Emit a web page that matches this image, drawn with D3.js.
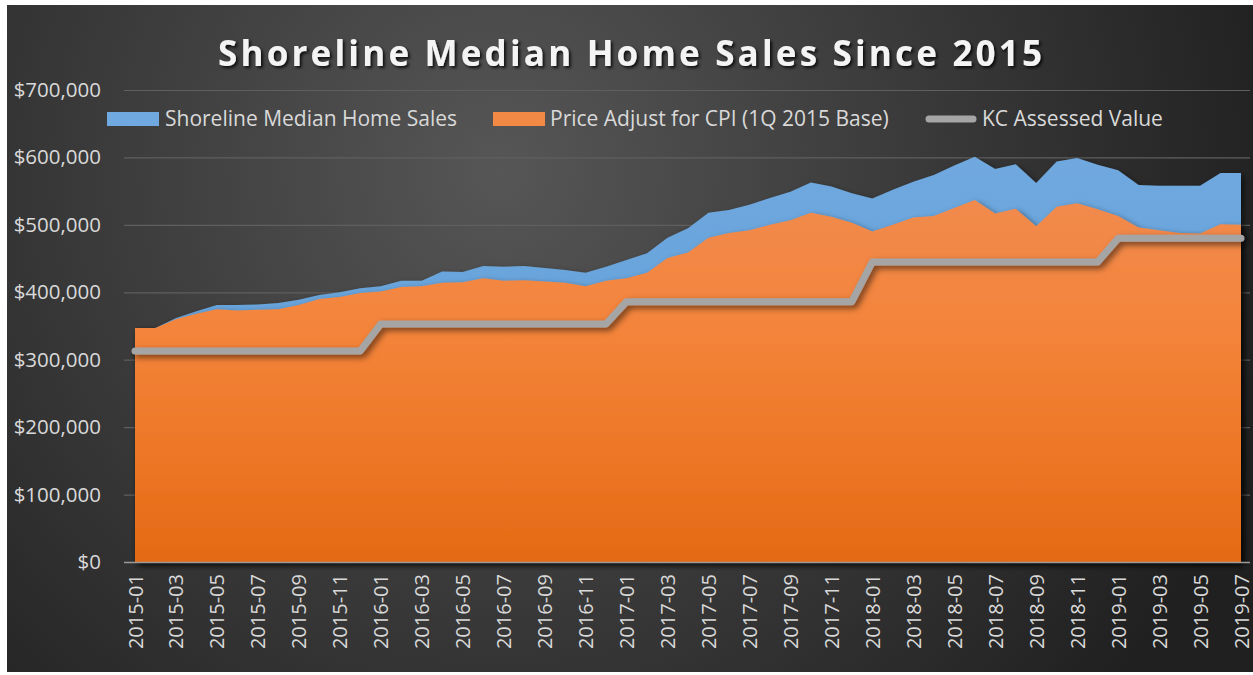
<!DOCTYPE html>
<html>
<head>
<meta charset="utf-8">
<script src="https://cdn.jsdelivr.net/npm/d3@7"></script>
<style>
  body { margin: 0; background: #fff; }
  svg text { font-family: 'Open Sans', sans-serif; }
</style>
</head>
<body>
<div id="chart"></div>
<script>
const months = [
  '2015-01','2015-02','2015-03','2015-04','2015-05','2015-06','2015-07','2015-08','2015-09','2015-10','2015-11','2015-12',
  '2016-01','2016-02','2016-03','2016-04','2016-05','2016-06','2016-07','2016-08','2016-09','2016-10','2016-11','2016-12',
  '2017-01','2017-02','2017-03','2017-04','2017-05','2017-06','2017-07','2017-08','2017-09','2017-10','2017-11','2017-12',
  '2018-01','2018-02','2018-03','2018-04','2018-05','2018-06','2018-07','2018-08','2018-09','2018-10','2018-11','2018-12',
  '2019-01','2019-02','2019-03','2019-04','2019-05','2019-06','2019-07'
]

// Shoreline median sale price
const medianSales = [
  347000, 347000, 362000, 372000, 381000, 381000, 382000, 384000, 389000, 396000, 400000, 406000,
  409000, 417000, 417000, 431000, 430000, 439000, 438000, 439000, 436000, 433000, 429000, 438000,
  448000, 458000, 481000, 495000, 518000, 522000, 530000, 540000, 549000, 563000, 557000, 547000,
  539000, 552000, 564000, 574000, 588000, 601000, 583000, 590000, 562000, 594000, 599000, 589000,
  581000, 559000, 558000, 558000, 558000, 577000, 577000
]

// same price in 1Q 2015 dollars
const cpiAdjusted = [
  347000, 347000, 360000, 368000, 375000, 373000, 374000, 375000, 381000, 390000, 393000, 399000,
  401000, 408000, 409000, 414000, 415000, 421000, 417000, 418000, 416000, 414000, 409000, 417000,
  421000, 429000, 451000, 459000, 481000, 488000, 492000, 500000, 507000, 518000, 512000, 503000,
  490000, 500000, 511000, 513000, 525000, 537000, 517000, 524000, 498000, 527000, 532000, 523000,
  513000, 496000, 492000, 488000, 487000, 501000, 500000
]

const kcAssessed = [
  313000, 313000, 313000, 313000, 313000, 313000, 313000, 313000, 313000, 313000, 313000, 313000,
  353000, 353000, 353000, 353000, 353000, 353000, 353000, 353000, 353000, 353000, 353000, 353000,
  386000, 386000, 386000, 386000, 386000, 386000, 386000, 386000, 386000, 386000, 386000, 386000,
  445000, 445000, 445000, 445000, 445000, 445000, 445000, 445000, 445000, 445000, 445000, 445000,
  480000, 480000, 480000, 480000, 480000, 480000, 480000
]

const yTicks = [0, 100000, 200000, 300000, 400000, 500000, 600000, 700000]
const xTickLabels = months.filter((m, i) => i % 2 === 0)

const title = 'Shoreline Median Home Sales Since 2015'
const seriesNames = ['Shoreline Median Home Sales', 'Price Adjust for CPI (1Q 2015 Base)', 'KC Assessed Value']

const width = 1253
const height = 675

const svg = d3.select('#chart')
  .append('svg')
  .attr('width', width)
  .attr('height', height)

const defs = svg.append('defs')

const bg = defs.append('radialGradient')
  .attr('id', 'bgGrad')
  .attr('gradientUnits', 'userSpaceOnUse')
  .attr('cx', 500).attr('cy', 170).attr('r', 800)
bg.append('stop').attr('offset', 0).attr('stop-color', '#565656')
bg.append('stop').attr('offset', 1).attr('stop-color', '#202020')

const orangeGrad = defs.append('linearGradient')
  .attr('id', 'orangeGrad')
  .attr('gradientUnits', 'userSpaceOnUse')
  .attr('x1', 0).attr('x2', 0).attr('y1', 180).attr('y2', 562)
orangeGrad.append('stop').attr('offset', 0).attr('stop-color', '#f08b50')
orangeGrad.append('stop').attr('offset', 0.4).attr('stop-color', '#f4843a')
orangeGrad.append('stop').attr('offset', 1).attr('stop-color', '#e56a14')

const blueGrad = defs.append('linearGradient')
  .attr('id', 'blueGrad')
  .attr('gradientUnits', 'userSpaceOnUse')
  .attr('x1', 0).attr('x2', 0).attr('y1', 140).attr('y2', 560)
blueGrad.append('stop').attr('offset', 0).attr('stop-color', '#70a9df')
blueGrad.append('stop').attr('offset', 1).attr('stop-color', '#5b9bd5')

const shadow = defs.append('filter')
  .attr('id', 'shadow')
  .attr('x', '-10%').attr('y', '-10%').attr('width', '120%').attr('height', '130%')
shadow.append('feDropShadow')
  .attr('dx', 3).attr('dy', 3).attr('stdDeviation', 3)
  .attr('flood-color', '#000').attr('flood-opacity', 0.55)

const titleShadow = defs.append('filter').attr('id', 'titleShadow')
titleShadow.append('feDropShadow')
  .attr('dx', 2).attr('dy', 2).attr('stdDeviation', 1.5)
  .attr('flood-color', '#000').attr('flood-opacity', 0.8)

svg.append('rect')
  .attr('x', 7).attr('y', 5)
  .attr('width', width - 7).attr('height', 667)
  .attr('fill', 'url(#bgGrad)')

const x = d3.scalePoint().domain(months).range([135, 1241])
const y = d3.scaleLinear().domain([0, 700000]).range([562, 90])

// gridlines
svg.append('g')
  .attr('transform', 'translate(124,0)')
  .call(d3.axisLeft(y).tickValues(yTicks).tickSize(-1126).tickFormat(''))
  .call(g => g.select('.domain').remove())
  .call(g => g.selectAll('line').attr('stroke', '#5f5f5f').attr('stroke-width', 1.2))

const area = d3.area()
  .x((d, i) => x(months[i]))
  .y0(y(0))
  .y1(d => y(d))

svg.append('path')
  .datum(medianSales)
  .attr('d', area)
  .attr('fill', 'url(#blueGrad)')
  .attr('filter', 'url(#shadow)')

svg.append('path')
  .datum(cpiAdjusted)
  .attr('d', area)
  .attr('fill', 'url(#orangeGrad)')
  .attr('filter', 'url(#shadow)')

const line = d3.line()
  .x((d, i) => x(months[i]))
  .y(d => y(d))

svg.append('path')
  .datum(kcAssessed)
  .attr('d', line)
  .attr('fill', 'none')
  .attr('stroke', '#a5a5a5')
  .attr('stroke-width', 7)
  .attr('stroke-linecap', 'round')
  .attr('stroke-linejoin', 'round')
  .attr('filter', 'url(#shadow)')

// x axis
svg.append('g')
  .attr('transform', `translate(0,${y(0)})`)
  .call(d3.axisBottom(x).tickValues(xTickLabels).tickSize(0))
  .call(g => g.select('.domain').attr('d', 'M124,0.5H1250').attr('stroke', '#9a9a9a').attr('stroke-width', 1.5))
  .call(g => g.selectAll('text')
    .attr('transform', 'rotate(-90)')
    .attr('text-anchor', 'end')
    .attr('x', -12)
    .attr('y', 0)
    .attr('dy', '0.35em')
    .attr('fill', '#d9d9d9')
    .style('font-size', '20px'))

// y axis labels
svg.append('g')
  .attr('transform', 'translate(101,0)')
  .call(d3.axisLeft(y).tickValues(yTicks).tickSize(0).tickPadding(0)
    .tickFormat(d => '$' + d3.format(',')(d)))
  .call(g => g.select('.domain').remove())
  .call(g => g.selectAll('text')
    .attr('fill', '#d9d9d9')
    .style('font-size', '20.5px'))

svg.append('text')
  .attr('x', 630)
  .attr('y', 66)
  .attr('text-anchor', 'middle')
  .attr('fill', '#f4f4f4')
  .attr('font-weight', 'bold')
  .attr('textLength', 824)
  .attr('lengthAdjust', 'spacing')
  .attr('filter', 'url(#titleShadow)')
  .style('font-size', '35px')
  .text(title)

// legend
const legend = svg.append('g').attr('transform', 'translate(0,119)')

legend.append('rect')
  .attr('x', 107).attr('y', -7).attr('width', 52).attr('height', 14)
  .attr('fill', 'url(#blueGrad)')
legend.append('rect')
  .attr('x', 493).attr('y', -7).attr('width', 52).attr('height', 14)
  .attr('fill', '#f28a45')
legend.append('line')
  .attr('x1', 929).attr('x2', 973)
  .attr('stroke', '#a5a5a5')
  .attr('stroke-width', 7)
  .attr('stroke-linecap', 'round')

legend.selectAll('.legend-label')
  .data(seriesNames)
  .enter()
  .append('text')
  .attr('class', 'legend-label')
  .attr('x', (d, i) => [165, 550, 982][i])
  .attr('dy', '0.35em')
  .attr('fill', '#d9d9d9')
  .style('font-size', '21px')
  .text(d => d)
</script>
</body>
</html>
